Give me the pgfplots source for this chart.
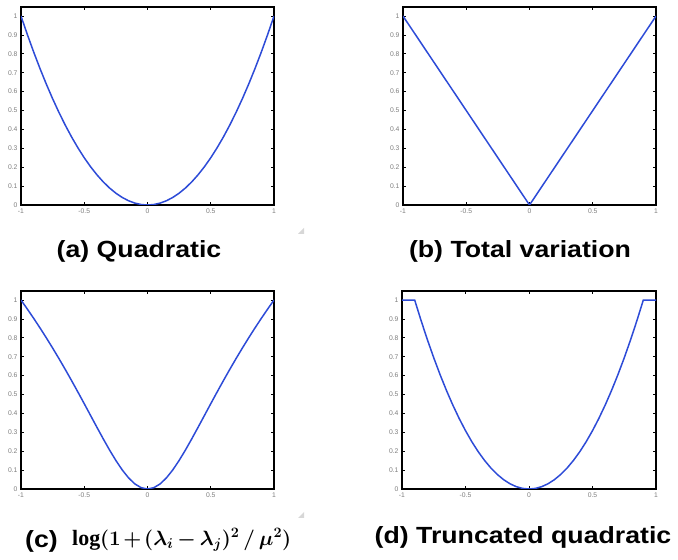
\documentclass[border=0pt]{standalone}
\usepackage{fontspec}
\setmainfont{Liberation Sans}
\newfontfamily\capfont[FakeStretch=1.14]{Liberation Sans}
\setmathrm{Liberation Serif}
\setboldmathrm{Liberation Serif Bold}
\usepackage{pgfplots}
\pgfplotsset{compat=1.18}
\definecolor{mblue}{RGB}{45,75,215}
\definecolor{tickgray}{RGB}{125,125,125}
\definecolor{handlegray}{RGB}{215,215,215}
\pgfplotsset{
  panel/.style={
    scale only axis, width=253bp, height=198bp,
    anchor=south west,
    xmin=-1, xmax=1, ymin=0, ymax=1.048,
    xtick={-1,-0.5,0,0.5,1}, xticklabels={-1,-0.5,0,0.5,1},
    ytick={0,0.1,0.2,0.3,0.4,0.5,0.6,0.7,0.8,0.9,1},
    yticklabels={0,0.1,0.2,0.3,0.4,0.5,0.6,0.7,0.8,0.9,1},
    tick align=inside, major tick length=3bp,
    axis line style={line width=1.3bp},
    every tick/.style={black, line width=0.8bp},
    tick label style={font=\fontsize{6.8}{7}\selectfont, text=tickgray},
  },
  curve/.style={mblue, line width=1.5bp, no markers},
}
\tikzset{captext/.style={font=\capfont\fontsize{23.5}{27}\selectfont\bfseries}}
\newsavebox{\capc}
\begin{document}
\sbox{\capc}{\fontsize{22}{26}\selectfont\mathversion{bold}%
  $\log(1\mskip2mu{+}\mskip2mu(\lambda_i\mskip3mu{-}\mskip3mu\lambda_j)^2\mskip3mu/\mskip3mu\mu^2)$}%
\begin{tikzpicture}
\useasboundingbox (0,0) rectangle (678bp,560bp);

% (a) quadratic
\begin{axis}[panel, at={(21bp,355bp)}]
\addplot[curve] coordinates {
(-1,1) (-0.95,0.9025) (-0.9,0.81) (-0.85,0.7225) (-0.8,0.64) (-0.75,0.5625)
(-0.7,0.49) (-0.65,0.4225) (-0.6,0.36) (-0.55,0.3025) (-0.5,0.25) (-0.45,0.2025)
(-0.4,0.16) (-0.35,0.1225) (-0.3,0.09) (-0.25,0.0625) (-0.2,0.04) (-0.15,0.0225)
(-0.1,0.01) (-0.05,0.0025) (0,0)
(0.05,0.0025) (0.1,0.01) (0.15,0.0225) (0.2,0.04) (0.25,0.0625) (0.3,0.09)
(0.35,0.1225) (0.4,0.16) (0.45,0.2025) (0.5,0.25) (0.55,0.3025) (0.6,0.36)
(0.65,0.4225) (0.7,0.49) (0.75,0.5625) (0.8,0.64) (0.85,0.7225) (0.9,0.81)
(0.95,0.9025) (1,1)
};
\end{axis}

% (b) total variation
\begin{axis}[panel, at={(403bp,355bp)}]
\addplot[curve] coordinates {(-1,1) (-0.5,0.5) (0,0) (0.5,0.5) (1,1)};
\end{axis}

% (c) log penalty
\begin{axis}[panel, at={(21bp,71bp)}]
\addplot[curve] coordinates {
(-1,1) (-0.95,0.95254) (-0.9,0.90347) (-0.85,0.85274) (-0.8,0.80029) (-0.75,0.74612)
(-0.7,0.69023) (-0.65,0.63265) (-0.6,0.57351) (-0.55,0.51298) (-0.5,0.45136) (-0.45,0.38910)
(-0.4,0.32687) (-0.35,0.26557) (-0.3,0.20642) (-0.25,0.15099) (-0.2,0.10119) (-0.15,0.05914)
(-0.1,0.02706) (-0.05,0.00689) (0,0)
(0.05,0.00689) (0.1,0.02706) (0.15,0.05914) (0.2,0.10119) (0.25,0.15099) (0.3,0.20642)
(0.35,0.26557) (0.4,0.32687) (0.45,0.38910) (0.5,0.45136) (0.55,0.51298) (0.6,0.57351)
(0.65,0.63265) (0.7,0.69023) (0.75,0.74612) (0.8,0.80029) (0.85,0.85274) (0.9,0.90347)
(0.95,0.95254) (1,1)
};
\end{axis}

% (d) truncated quadratic
\begin{axis}[panel, at={(402bp,71bp)}, width=254bp]
\addplot[curve] coordinates {
(-1,1) (-0.95,1) (-0.9,1) (-0.85,0.89198) (-0.8,0.79012) (-0.75,0.69444)
(-0.7,0.60494) (-0.65,0.52160) (-0.6,0.44444) (-0.55,0.37346) (-0.5,0.30864) (-0.45,0.25)
(-0.4,0.19753) (-0.35,0.15123) (-0.3,0.11111) (-0.25,0.07716) (-0.2,0.04938) (-0.15,0.02778)
(-0.1,0.01235) (-0.05,0.00309) (0,0)
(0.05,0.00309) (0.1,0.01235) (0.15,0.02778) (0.2,0.04938) (0.25,0.07716) (0.3,0.11111)
(0.35,0.15123) (0.4,0.19753) (0.45,0.25) (0.5,0.30864) (0.55,0.37346) (0.6,0.44444)
(0.65,0.52160) (0.7,0.60494) (0.75,0.69444) (0.8,0.79012) (0.85,0.89198) (0.9,1)
(0.95,1) (1,1)
};
\end{axis}

% captions
\node[anchor=base, captext] at (139bp,302bp) {(a) Quadratic};
\node[anchor=base, captext] at (520bp,302bp) {(b) Total variation};
\node[anchor=base west, captext, inner sep=0pt] at (25bp,13bp) {(c)};
\node[anchor=base west, inner sep=0pt] at (72bp,15bp) {\usebox{\capc}};
\node[anchor=base, captext] at (523bp,17bp) {(d) Truncated quadratic};

% faint resize handles of the source figure
\fill[handlegray] (304bp,332bp) -- (304bp,326bp) -- (298bp,326bp) -- cycle;
\fill[handlegray] (304bp,48bp) -- (304bp,42bp) -- (298bp,42bp) -- cycle;
\end{tikzpicture}
\end{document}
